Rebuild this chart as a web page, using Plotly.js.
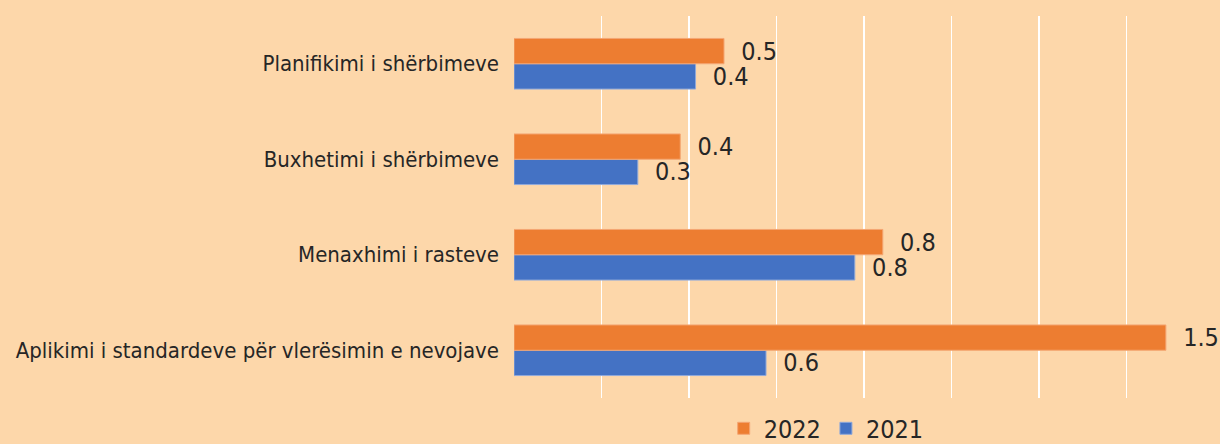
<!DOCTYPE html>
<html>
<head>
<meta charset="utf-8">
<script src="https://cdn.plot.ly/plotly-3.0.1.min.js"></script>
<style>html,body{margin:0;padding:0;background:#FDD7AA;}</style>
</head>
<body>
<div id="chart" style="width:1220px;height:444px;"></div>
<script>
// Categories listed bottom to top
const categories = [
  "Aplikimi i standardeve për vlerësimin e nevojave",
  "Menaxhimi i rasteve",
  "Buxhetimi i shërbimeve",
  "Planifikimi i shërbimeve"
];
const values2021 = [0.576, 0.779, 0.283, 0.415];
const values2022 = [1.49, 0.843, 0.38, 0.48];
const seriesNames = ["2021", "2022"];

const FONT = "DejaVu Sans Condensed, Liberation Sans, sans-serif";
const labelFont = {family: FONT, size: 25, color: "#262626"};

const traces = [
  {
    type: "bar", orientation: "h", name: seriesNames[0],
    y: categories, x: values2021,
    marker: {color: "#4472C4", line: {color: "#8FA8DA", width: 1}},
    texttemplate: "  %{x:.1f}", textposition: "outside", cliponaxis: false,
    constraintext: "none",
    textfont: labelFont, hoverinfo: "x+y"
  },
  {
    type: "bar", orientation: "h", name: seriesNames[1],
    y: categories, x: values2022,
    marker: {color: "#ED7D31", line: {color: "#F4A673", width: 1}},
    texttemplate: "  %{x:.1f}", textposition: "outside", cliponaxis: false,
    constraintext: "none",
    textfont: labelFont, hoverinfo: "x+y"
  }
];

const layout = {
  width: 1220, height: 444,
  paper_bgcolor: "#FDD7AA", plot_bgcolor: "#FDD7AA",
  margin: {l: 514, r: 6, t: 16, b: 46, autoexpand: false},
  barmode: "group", bargap: 0.47, bargroupgap: 0,
  font: {family: FONT, color: "#262626"},
  xaxis: {
    range: [0, 1.6], dtick: 0.2, showticklabels: false,
    showgrid: true, gridcolor: "#FFFFFF", gridwidth: 1.5,
    zeroline: false, showline: false, ticks: "", fixedrange: true
  },
  yaxis: {
    type: "category", showgrid: false, zeroline: false, showline: false,
    ticks: "", ticklabelstandoff: 14,
    tickfont: {family: FONT, size: 22, color: "#262626"}
  },
  showlegend: true,
  legend: {
    orientation: "h", traceorder: "reversed",
    x: 0.446, xanchor: "center", xref: "paper",
    y: -0.08, yanchor: "middle",
    font: {family: FONT, size: 25, color: "#262626"},
    bgcolor: "rgba(0,0,0,0)", itemwidth: 30
  }
};

Plotly.newPlot("chart", traces, layout, {displayModeBar: false, staticPlot: true});
</script>
</body>
</html>
